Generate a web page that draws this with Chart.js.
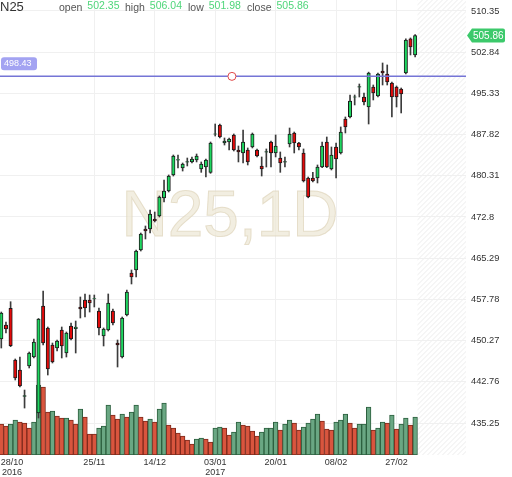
<!DOCTYPE html>
<html>
<head>
<meta charset="utf-8">
<script src="https://cdn.jsdelivr.net/npm/chart.js@4.4.1/dist/chart.umd.min.js"></script>
<style>
	html, body { margin: 0; padding: 0; background: #fff; }
	#wrap { width: 512px; height: 477px; position: relative; }
</style>
</head>
<body>
<div id="wrap"><canvas id="chart"></canvas></div>
<script>
const symbol = 'N25';
const interval = '1D';

const opens = [450.56,453.11,456.16,446.73,444.91,440.10,445.64,447.28,437.07,456.58,
	452.57,449.47,448.92,452.20,448.01,452.93,452.44,456.40,457.67,457.67,
	457.85,455.66,451.11,452.20,455.66,449.83,447.28,454.93,462.59,463.14,
	466.79,470.61,470.61,472.44,472.98,476.26,477.54,480.46,483.15,481.73,
	482.78,482.83,483.19,481.55,481.91,480.94,487.88,489.57,486.29,486.47,
	487.75,485.01,484.47,485.01,485.56,485.01,482.10,484.60,486.47,484.47,
	483.55,482.78,486.11,488.11,486.29,484.47,479.91,479.91,479.91,481.91,
	486.47,481.55,485.56,484.47,490.66,491.03,494.62,496.45,494.67,492.85,
	496.50,494.86,499.41,498.87,497.23,496.50,496.13,499.05,505.25,502.35];
const highs = [455.48,453.66,457.36,446.92,447.28,441.26,448.19,450.56,454.30,459.31,
	452.75,449.83,450.38,452.75,451.84,453.48,453.84,458.22,458.77,458.58,
	458.58,456.21,452.57,458.77,456.03,450.38,454.57,459.49,463.14,466.79,
	469.88,471.16,474.08,473.71,476.63,479.55,480.46,484.10,484.10,482.64,
	483.55,483.74,484.28,482.83,483.37,486.47,489.75,489.75,487.20,487.20,
	487.93,485.74,488.66,485.38,488.11,485.20,483.74,485.20,486.65,487.75,
	484.65,483.74,489.02,488.29,486.40,485.20,480.09,480.94,482.28,486.47,
	487.38,485.56,486.29,489.21,491.03,495.04,495.04,497.04,495.40,499.20,
	496.86,499.05,500.87,500.51,497.41,496.68,496.31,505.25,505.43,506.04];
const lows = [448.92,451.66,449.16,443.09,441.81,437.98,445.28,447.10,436.16,449.47,
	444.00,446.19,448.37,447.10,447.28,450.38,448.01,454.39,454.57,455.48,
	456.40,451.29,449.29,452.02,453.11,445.46,447.10,454.75,460.59,461.86,
	466.60,468.79,469.88,471.89,472.80,475.53,477.36,480.27,481.73,481.18,
	482.10,482.64,482.83,480.94,480.09,480.76,487.56,487.20,485.92,485.01,
	484.83,482.83,482.64,482.28,485.38,483.74,480.27,481.91,481.91,483.74,
	480.94,481.91,485.56,484.47,485.01,479.18,476.30,479.18,479.00,481.80,
	481.80,481.37,479.91,484.28,488.11,490.85,493.22,494.67,493.22,489.75,
	494.13,494.67,496.86,496.86,491.03,492.85,491.76,498.87,502.33,501.98];
const closes = [455.30,452.38,449.34,443.45,441.99,440.25,448.01,450.02,454.21,449.83,
	445.09,446.37,450.20,449.29,451.66,450.56,452.75,456.03,456.21,457.12,
	457.95,452.57,452.38,457.12,453.48,449.47,454.39,459.13,461.86,466.60,
	469.70,470.25,473.35,472.07,476.45,477.54,480.27,483.92,483.25,482.46,
	482.88,483.37,483.92,482.46,483.19,486.29,487.98,487.38,486.65,487.02,
	485.01,484.65,486.47,482.83,487.93,483.92,481.55,484.70,484.47,485.74,
	482.64,482.88,487.93,486.29,485.56,479.36,476.45,479.36,481.91,485.74,
	481.91,484.10,483.37,488.29,489.21,493.94,494.72,496.55,493.76,499.05,
	495.40,498.87,499.05,497.41,494.67,494.67,495.22,505.06,503.79,505.86];
const volumes = [31,29,31,35,33,32,27,33,70,68, 43,44,39,37,37,35,31,46,38,21,
	21,27,29,50,40,36,41,38,43,50, 38,34,36,33,46,52,30,27,22,19,
	15,11,16,17,16,13,27,28,27,20, 23,33,30,29,24,19,23,27,27,33,
	25,31,35,32,25,28,32,36,41,34, 26,25,33,35,41,32,27,31,31,48,
	25,27,33,32,40,26,31,37,30,38];
const volUp = [0,0,1,1,0,0,0,1,1,0, 0,1,0,0,1,0,0,1,0,0,
	0,1,1,1,0,0,1,0,1,1, 0,0,1,0,1,1,0,0,0,0,
	0,0,1,1,0,0,1,1,0,0, 1,1,0,0,0,0,1,1,1,1,
	0,1,1,0,0,1,1,1,1,0, 0,0,1,1,1,0,0,1,1,1,
	0,1,1,0,1,0,1,1,0,1];

const dateTicks = [2.3, 20, 33, 46, 59, 72, 85];
const dateLabels = [['28/10', '2016'], '25/11', '14/12', ['03/01', '2017'], '20/01', '08/02', '27/02'];
const priceTicks = [435.25, 442.76, 450.27, 457.78, 465.29, 472.8, 480.31, 487.82, 495.33, 502.84, 510.35];

const alertLevel = 498.43;
const alertAnchor = 49.6;

const FONT = 'Liberation Sans, Arial, sans-serif';
const GREEN = '#1ed760';
const RED = '#e30a0a';

const idx = opens.map((_, i) => i);
const last = opens.length - 1;

const noPad = scale => {
	scale.paddingTop = 0;
	scale.paddingBottom = 0;
	scale.paddingLeft = 0;
	scale.paddingRight = 0;
};

const overlay = {
	id: 'overlay',
	beforeDraw(chart) {
		const { ctx, chartArea: a, scales: { x } } = chart;
		const x0 = x.getPixelForValue(last + 0.5);
		ctx.save();
		ctx.beginPath();
		ctx.rect(x0, a.top, a.right - x0, a.bottom - a.top);
		ctx.clip();
		ctx.strokeStyle = '#ececec';
		ctx.lineWidth = 1;
		for (let s = x0 - (a.bottom - a.top); s < a.right; s += 5) {
			ctx.beginPath();
			ctx.moveTo(s, a.bottom);
			ctx.lineTo(s + (a.bottom - a.top), a.top);
			ctx.stroke();
		}
		ctx.restore();
	},
	beforeDatasetsDraw(chart) {
		const { ctx, chartArea: a } = chart;
		ctx.save();
		ctx.font = '64px ' + FONT;
		ctx.textAlign = 'center';
		ctx.textBaseline = 'middle';
		const cx = (a.left + a.right) / 2 - 3;
		const cy = a.top + (a.bottom - a.top) * 0.48;
		ctx.fillStyle = 'rgba(238,232,215,0.75)';
		ctx.fillText(symbol + ',' + interval, cx, cy);
		ctx.strokeStyle = 'rgba(222,212,186,0.7)';
		ctx.lineWidth = 1;
		ctx.strokeText(symbol + ',' + interval, cx, cy);
		ctx.restore();
	},
	afterDraw(chart) {
		const { ctx, chartArea: a, scales: { y } } = chart;
		ctx.save();
		// header
		ctx.textBaseline = 'alphabetic';
		ctx.fillStyle = '#333';
		ctx.font = '13px ' + FONT;
		ctx.fillText(symbol, 0, 11);
		const parts = [['open', opens[last], 59], ['high', highs[last], 125], ['low', lows[last], 188], ['close', closes[last], 247]];
		parts.forEach(([name, val, px]) => {
			ctx.font = '10.5px ' + FONT;
			ctx.fillStyle = '#555';
			ctx.fillText(name, px, 10.5);
			const w = ctx.measureText(name).width;
			ctx.fillStyle = '#4fd67a';
			ctx.fillText(val.toFixed(2), px + w + 5, 9);
		});

		// alert label on the left
		const ya = y.getPixelForValue(alertLevel);
		ctx.fillStyle = '#a3a3f2';
		ctx.beginPath();
		ctx.roundRect(a.left + 1, ya - 19, 36, 13, 3);
		ctx.fill();
		ctx.fillStyle = '#fff';
		ctx.font = '9px ' + FONT;
		ctx.textBaseline = 'middle';
		ctx.fillText(alertLevel.toFixed(2), a.left + 4, ya - 12.5);

		// last price tag on the right
		const yc = y.getPixelForValue(closes[last]);
		const xr = a.right;
		ctx.fillStyle = '#3cc96b';
		ctx.beginPath();
		ctx.moveTo(xr + 1, yc);
		ctx.lineTo(xr + 6, yc - 7);
		ctx.lineTo(xr + 37, yc - 7);
		ctx.quadraticCurveTo(xr + 39, yc - 7, xr + 39, yc - 5);
		ctx.lineTo(xr + 39, yc + 5);
		ctx.quadraticCurveTo(xr + 39, yc + 7, xr + 37, yc + 7);
		ctx.lineTo(xr + 6, yc + 7);
		ctx.closePath();
		ctx.fill();
		ctx.fillStyle = '#fff';
		ctx.font = '10px ' + FONT;
		ctx.fillText(closes[last].toFixed(2), xr + 7, yc + 0.5);
		ctx.restore();
	}
};

const config = {
	type: 'bar',
	data: {
		datasets: [
			{
				type: 'line',
				data: [{ x: -5, y: alertLevel }, { x: 110, y: alertLevel }],
				borderColor: '#7575d6',
				borderWidth: 1.5,
				pointRadius: 0,
				yAxisID: 'y',
				order: 0
			},
			{
				type: 'line',
				data: [{ x: alertAnchor, y: alertLevel }],
				showLine: false,
				pointRadius: 4,
				pointBorderWidth: 1,
				pointBorderColor: '#e04848',
				pointBackgroundColor: '#fff',
				yAxisID: 'y',
				order: -1
			},
			{
				data: idx.map(i => ({ x: i, y: [opens[i], closes[i]] })),
				backgroundColor: idx.map(i => closes[i] >= opens[i] ? GREEN : RED),
				borderColor: '#1a1a1a',
				borderWidth: 1,
				borderSkipped: false,
				barThickness: 3.4,
				grouped: false,
				yAxisID: 'y',
				order: 1
			},
			{
				data: idx.map(i => ({ x: i, y: [lows[i], highs[i]] })),
				backgroundColor: '#3c3c3c',
				barThickness: 1,
				grouped: false,
				yAxisID: 'y',
				order: 2
			},
			{
				data: idx.map(i => ({ x: i, y: volumes[i] })),
				backgroundColor: idx.map(i => volUp[i] ? '#6aa783' : '#d9553e'),
				borderColor: idx.map(i => volUp[i] ? '#2c5f3e' : '#7e2a1c'),
				borderWidth: 1,
				borderSkipped: false,
				barPercentage: 1,
				categoryPercentage: 1,
				grouped: false,
				yAxisID: 'v',
				order: 3
			}
		]
	},
	options: {
		responsive: true,
		maintainAspectRatio: false,
		animation: false,
		layout: { padding: 0, autoPadding: false },
		plugins: {
			legend: { display: false },
			tooltip: { enabled: false }
		},
		scales: {
			x: {
				type: 'linear',
				offset: false,
				min: -0.28,
				max: 99.94,
				afterBuildTicks: scale => { scale.ticks = dateTicks.map(v => ({ value: v })); },
				afterFit: scale => { scale.height = 22; noPad(scale); },
				grid: {
					color: ctx => ctx.index === 0 ? 'rgba(0,0,0,0)' : '#f0f0f0',
					drawTicks: false,
					offset: false
				},
				border: { display: false },
				ticks: {
					autoSkip: false,
					maxRotation: 0,
					padding: 3,
					color: '#333',
					font: { family: FONT, size: 9, lineHeight: 1.05 },
					callback: (value, index) => dateLabels[index]
				}
			},
			y: {
				position: 'right',
				min: 429.42,
				max: 512.35,
				afterBuildTicks: scale => { scale.ticks = priceTicks.map(v => ({ value: v })); },
				afterFit: scale => { scale.width = 46; noPad(scale); },
				grid: { color: '#f0f0f0', drawTicks: false },
				border: { display: false },
				ticks: {
					padding: 5,
					color: '#333',
					font: { family: FONT, size: 9.3 },
					callback: value => String(value)
				}
			},
			v: {
				display: false,
				offset: false,
				min: 0,
				max: 455
			}
		}
	},
	plugins: [overlay]
};

new Chart(document.getElementById('chart'), config);
</script>
</body>
</html>
